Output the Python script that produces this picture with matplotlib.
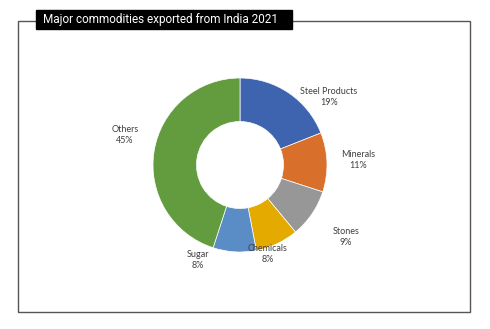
import matplotlib
matplotlib.use("Agg")
import matplotlib.pyplot as plt
from matplotlib.patches import Rectangle

categories = ["Steel Products", "Minerals", "Stones", "Chemicals", "Sugar", "Others"]
values = [19, 11, 9, 8, 8, 45]
colors = ["#3E64B0", "#D8702C", "#979797", "#E4AA00", "#5A8CC6", "#629C3E"]
# label anchor positions in pixels (x, y from top)
label_pos = [(329, 97), (358, 160), (346, 237), (268, 254), (198, 260), (125, 135)]
title = "Major commodities exported from India 2021"

W, H = 490, 329
fig = plt.figure(figsize=(W / 100, H / 100), dpi=100)
ax = fig.add_axes([0, 0, 1, 1])

cx, cy, R = 240, H - 165, 87
ax.pie(values, colors=colors, startangle=90, counterclock=False,
       center=(cx, cy), radius=R, frame=True,
       wedgeprops=dict(width=R * 0.5, edgecolor="white", linewidth=0.5))
ax.set_xlim(0, W)
ax.set_ylim(0, H)
ax.set_aspect("equal")
ax.axis("off")

for name, v, (x, y) in zip(categories, values, label_pos):
    ax.text(x, H - y, f"{name}\n{v}%", ha="center", va="center",
            fontsize=6.5, family="Lato", color="#404040", linespacing=1.3)

# frame
ax.add_patch(Rectangle((18, H - 312), 452, 291, fill=False, edgecolor="#555555", linewidth=1.0))
# title box
ax.add_patch(Rectangle((36, H - 29), 256, 19, facecolor="black", edgecolor="black", zorder=5))
ax.text(160, H - 19.5, title, ha="center", va="center", color="white",
        fontsize=8.5, family="Roboto", zorder=6)

fig.savefig("out.png", dpi=100, facecolor="white")
